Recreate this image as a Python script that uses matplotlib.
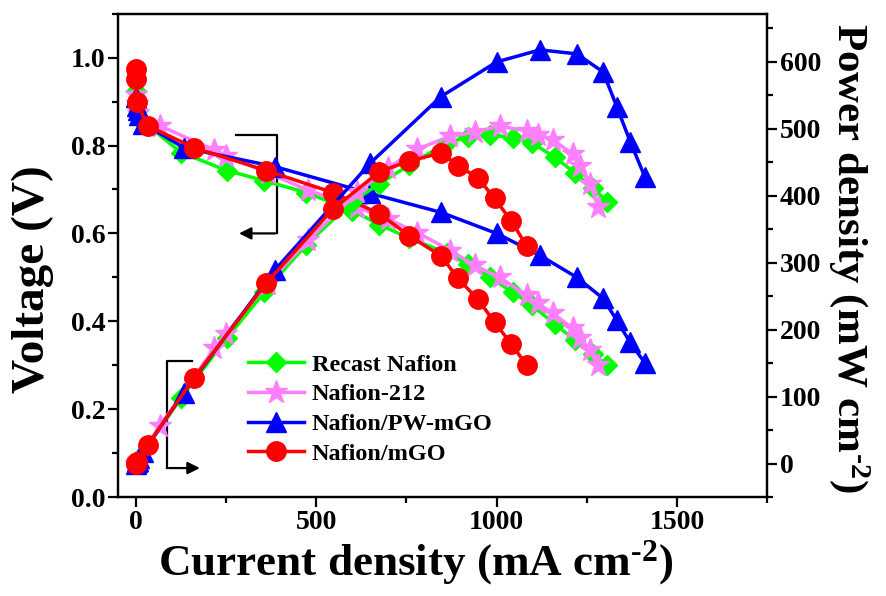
import matplotlib
matplotlib.use('Agg')
import matplotlib.pyplot as plt
from matplotlib.ticker import MultipleLocator

plt.rcParams['font.family'] = ['Liberation Serif', 'DejaVu Serif']
plt.rcParams['font.weight'] = 'bold'
plt.rcParams['axes.labelweight'] = 'bold'
plt.rcParams['mathtext.fontset'] = 'custom'
plt.rcParams['mathtext.rm'] = 'Liberation Serif:bold'
plt.rcParams['mathtext.bf'] = 'Liberation Serif:bold'
plt.rcParams['mathtext.it'] = 'Liberation Serif:bold'

# polarisation data, current density in mA cm-2, voltage in V, power in mW cm-2
current_recast = [0, 2, 5, 12, 125, 253, 356, 472, 600, 675, 758, 861, 920, 981, 1045, 1097, 1161, 1217, 1267, 1306]
voltage_recast = [0.925, 0.90, 0.88, 0.86, 0.784, 0.743, 0.72, 0.693, 0.652, 0.62, 0.589, 0.556, 0.53, 0.50, 0.466, 0.437, 0.394, 0.357, 0.325, 0.30]
power_recast = [0, 2, 4, 10, 98, 188, 256, 327, 391, 418, 446, 479, 488, 491, 487, 479, 458, 434, 412, 391]

current_212 = [0, 2, 5, 66, 217, 250, 365, 478, 614, 700, 780, 872, 939, 1008, 1083, 1114, 1156, 1211, 1231, 1258, 1281]
voltage_212 = [0.915, 0.895, 0.875, 0.845, 0.79, 0.777, 0.738, 0.698, 0.66, 0.632, 0.602, 0.561, 0.527, 0.50, 0.459, 0.441, 0.418, 0.384, 0.361, 0.334, 0.30]
power_212 = [0, 2, 4, 56, 172, 194, 269, 334, 405, 442, 470, 489, 495, 504, 497, 491, 484, 462, 444, 418, 384]

current_pw = [0, 2, 5, 10, 20, 133, 385, 650, 845, 1000, 1120, 1222, 1295, 1333, 1370, 1411]
voltage_pw = [0.91, 0.89, 0.88, 0.87, 0.85, 0.795, 0.752, 0.691, 0.648, 0.60, 0.55, 0.50, 0.452, 0.402, 0.352, 0.305]
power_pw = [0, 2, 4, 9, 17, 106, 289, 449, 548, 600, 618, 612, 585, 533, 481, 428]

current_mgo = [0, 1, 2, 33, 161, 362, 546, 675, 757, 847, 892, 948, 994, 1040, 1083]
voltage_mgo = [0.975, 0.952, 0.898, 0.845, 0.795, 0.743, 0.693, 0.645, 0.595, 0.548, 0.498, 0.45, 0.398, 0.349, 0.30]
power_mgo = [0, 1, 2, 28, 128, 270, 380, 436, 452, 464, 445, 427, 396, 363, 325]

labels = ['Recast Nafion', 'Nafion-212', 'Nafion/PW-mGO', 'Nafion/mGO']
colors = ['#00ff00', '#ff80ff', '#0000ff', '#ff0000']
markers = ['D', '*', '^', 'o']
sizes = [10, 17, 14, 14]

currents = [current_recast, current_212, current_pw, current_mgo]
voltages = [voltage_recast, voltage_212, voltage_pw, voltage_mgo]
powers = [power_recast, power_212, power_pw, power_mgo]

fig = plt.figure(figsize=(8.86, 5.96), dpi=100)
ax = fig.add_axes([0.133, 0.166, 0.733, 0.811])
ax2 = ax.twinx()

for i in range(4):
    ax.plot(currents[i], voltages[i], color=colors[i], marker=markers[i],
            markersize=sizes[i], linewidth=2.5, label=labels[i], zorder=3 + i)
    ax2.plot(currents[i], powers[i], color=colors[i], marker=markers[i],
             markersize=sizes[i], linewidth=2.5, zorder=3 + i)

ax.set_xlim(-50, 1750)
ax.set_ylim(0, 1.1)
ax2.set_ylim(-50, 672)

ax.xaxis.set_major_locator(MultipleLocator(500))
ax.xaxis.set_minor_locator(MultipleLocator(250))
ax.yaxis.set_major_locator(MultipleLocator(0.2))
ax.yaxis.set_minor_locator(MultipleLocator(0.1))
ax2.yaxis.set_major_locator(MultipleLocator(100))
ax2.yaxis.set_minor_locator(MultipleLocator(50))

ax.yaxis.set_major_formatter(plt.FormatStrFormatter('%.1f'))

for a in (ax, ax2):
    for s in a.spines.values():
        s.set_linewidth(1.6)
    a.tick_params(which='major', direction='out', length=7, width=1.6, labelsize=20, pad=2)
    a.tick_params(which='minor', direction='out', length=4.5, width=1.6)
ax.tick_params(axis='y', which='both', right=False)
ax.tick_params(axis='x', which='both', top=False)

ax.set_xlabel(r'Current density (mA cm$^{\text{-2}}$)', fontsize=32.5, labelpad=4)
ax.xaxis.set_label_coords(0.458, -0.085)
ax.set_ylabel('Voltage (V)', fontsize=34, va='center', ha='center')
ax.yaxis.set_label_coords(-0.131, 0.45)
ax2.set_ylabel(r'Power density (mW cm$^{\text{-2}}$)', fontsize=31, rotation=270,
               va='center', ha='center')
ax2.yaxis.set_label_coords(1.127, 0.495)

# arrows pointing each curve family to its axis
ax.plot([278, 392, 392], [0.823, 0.823, 0.6], color='black', linewidth=1.6, zorder=2)
ax.annotate('', xy=(278, 0.6), xytext=(394, 0.6),
            arrowprops=dict(arrowstyle='-|>', color='black', lw=1.6, mutation_scale=18))
ax.plot([156, 86, 86], [0.309, 0.309, 0.066], color='black', linewidth=1.6, zorder=2)
ax.annotate('', xy=(185, 0.066), xytext=(84, 0.066),
            arrowprops=dict(arrowstyle='-|>', color='black', lw=1.6, mutation_scale=18))

ax.legend(loc='upper left', bbox_to_anchor=(0.186, 0.317), frameon=False,
          fontsize=17.5, handlelength=2.3, labelspacing=0.32, handletextpad=0.3,
          borderaxespad=0)

fig.savefig('out.png', dpi=100)
